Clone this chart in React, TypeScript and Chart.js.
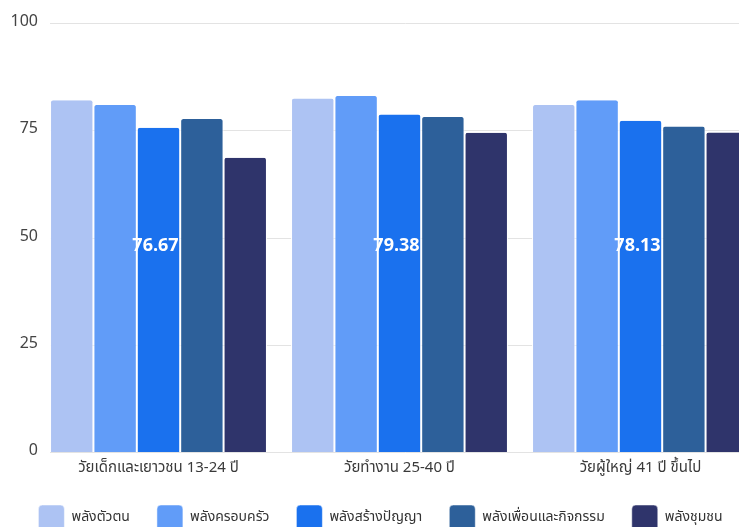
import React, { useEffect, useRef } from "react";
import { Chart, registerables } from "chart.js";

Chart.register(...registerables);

const categories = ["วัยเด็กและเยาวชน 13-24 ปี", "วัยทำงาน 25-40 ปี", "วัยผู้ใหญ่ 41 ปี ขึ้นไป"];
const seriesNames = ["พลังตัวตน", "พลังครอบครัว", "พลังสร้างปัญญา", "พลังเพื่อนและกิจกรรม", "พลังชุมชน"];
const selfValues = [82.0, 82.4, 80.9];
const familyValues = [80.9, 83.0, 82.0];
const wisdomValues = [75.6, 78.7, 77.2];
const friendsValues = [77.6, 78.1, 75.9];
const communityValues = [68.6, 74.4, 74.5];
const averageLabels = ["76.67", "79.38", "78.13"];
const yTicks = [0, 25, 50, 75, 100];
const colors = ["#ADC3F3", "#619CF8", "#1A71EE", "#2D609A", "#2F346B"];
const AVG_LABEL_VALUE = 47.6;

const seriesValues = [selfValues, familyValues, wisdomValues, friendsValues, communityValues];

const FONT = "'Noto Sans Thai', 'Noto Sans', 'DejaVu Sans', sans-serif";

export default function App() {
  const ref = useRef<HTMLCanvasElement | null>(null);

  useEffect(() => {
    if (!ref.current) return;
    const gridPlugin = {
      id: "gridFromLeft",
      beforeDatasetsDraw(chart: any) {
        const { ctx, chartArea, scales } = chart;
        ctx.save();
        ctx.strokeStyle = "#e3e3e3";
        ctx.lineWidth = 1;
        yTicks.forEach((t) => {
          const y = Math.round(scales.y.getPixelForValue(t)) + 0.5;
          ctx.beginPath();
          ctx.moveTo(chartArea.left + 12, y);
          ctx.lineTo(chartArea.right, y);
          ctx.stroke();
        });
        ctx.restore();
      },
      afterDatasetsDraw(chart: any) {
        const { ctx, scales } = chart;
        ctx.save();
        ctx.fillStyle = "#ffffff";
        ctx.font = `bold 18px ${FONT}`;
        ctx.textAlign = "center";
        ctx.textBaseline = "middle";
        averageLabels.forEach((lbl, i) => {
          ctx.fillText(lbl, scales.x.getPixelForValue(i) - 3, scales.y.getPixelForValue(AVG_LABEL_VALUE));
        });
        ctx.restore();
      },
    };

    const chart = new Chart(ref.current, {
      type: "bar",
      data: {
        labels: categories,
        datasets: seriesNames.map((name, i) => ({
          label: name,
          data: seriesValues[i],
          backgroundColor: colors[i],
          borderColor: "#ffffff",
          borderWidth: { left: 1, right: 1, top: 0, bottom: 0 },
          borderRadius: 3,
          borderSkipped: "bottom",
          barPercentage: 1,
          categoryPercentage: 0.9,
        })),
      },
      options: {
        animation: false,
        responsive: false,
        maintainAspectRatio: false,
        layout: { padding: { left: 0, right: 9, top: 23, bottom: 0 } },
        scales: {
          x: {
            grid: { display: false },
            border: { display: false },
            ticks: {
              color: "#3a3a3a",
              font: { family: FONT, size: 15 },
              padding: 0,
            },
          },
          y: {
            min: 0,
            max: 100,
            afterFit: (s: any) => {
              s.width = 38;
            },
            afterBuildTicks: (s: any) => {
              s.ticks = yTicks.map((v) => ({ value: v }));
            },
            grid: { display: false, drawTicks: false },
            border: { display: false },
            ticks: {
              color: "#444444",
              font: { family: FONT, size: 16 },
              padding: 0,
            },
          },
        },
        plugins: {
          legend: {
            position: "bottom",
            labels: {
              boxWidth: 26,
              boxHeight: 26,
              useBorderRadius: true,
              borderRadius: 4,
              color: "#333333",
              font: { family: FONT, size: 14 },
              padding: 27,
            },
          },
          tooltip: { enabled: false },
        },
      },
      plugins: [gridPlugin],
    });
    return () => chart.destroy();
  }, []);

  return (
    <div style={{ position: "fixed", left: 0, top: 0, width: 739, height: 527, overflow: "hidden", background: "#fff" }}>
      <canvas ref={ref} width={770} height={541} style={{ width: 770, height: 541, display: "block" }} />
    </div>
  );
}
